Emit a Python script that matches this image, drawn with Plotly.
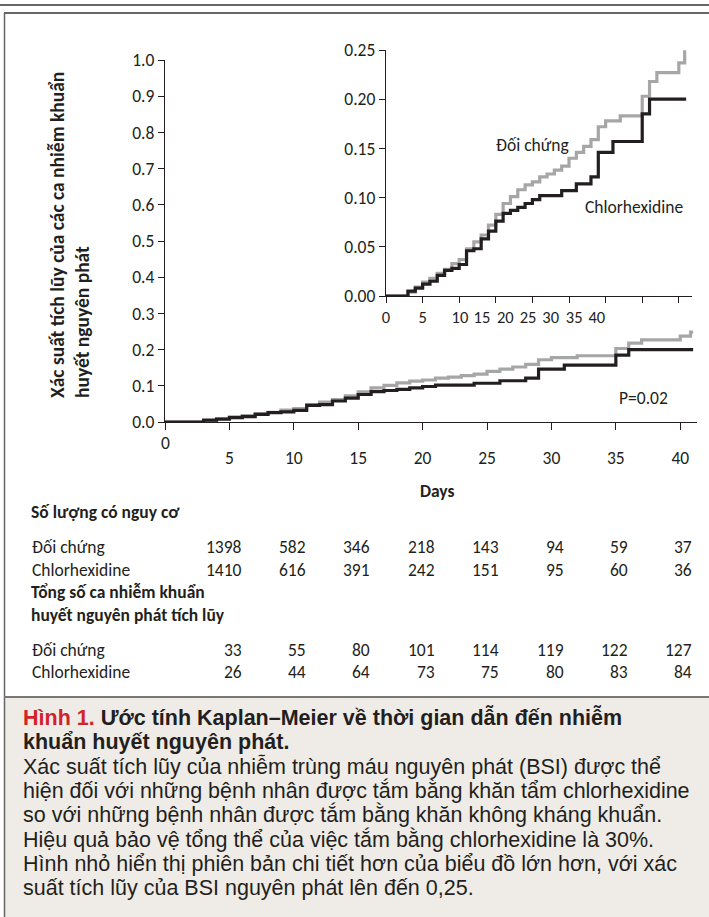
import plotly.graph_objects as go

# ---------------- data ----------------
control_days = [0, 3, 4, 5, 6, 7, 8, 9, 10, 11, 12, 13, 14, 15, 16, 17, 18, 19, 20, 21, 22, 23, 24,
                25, 26, 27, 28, 29, 30, 32, 35, 36, 37, 40, 40.8, 41]
control_prob = [0, 0.004, 0.009, 0.014, 0.018, 0.023, 0.027, 0.033, 0.037, 0.048, 0.055, 0.062, 0.072,
                0.083, 0.094, 0.101, 0.108, 0.113, 0.116, 0.121, 0.124, 0.128, 0.132, 0.140, 0.146,
                0.152, 0.159, 0.172, 0.178, 0.183, 0.203, 0.218, 0.227, 0.237, 0.248, 0.248]

chlor_days = [0, 3, 4, 5, 6, 7, 8, 9, 10, 11, 12, 13, 14, 15, 16, 17, 18, 19, 20, 21, 24, 26, 28, 29,
              31, 35, 36, 41]
chlor_prob = [0, 0.005, 0.008, 0.012, 0.015, 0.021, 0.026, 0.028, 0.032, 0.046, 0.048, 0.058, 0.066,
              0.076, 0.084, 0.087, 0.090, 0.094, 0.098, 0.102, 0.107, 0.114, 0.121, 0.146, 0.157,
              0.185, 0.200, 0.200]

main_xticks = [0, 5, 10, 15, 20, 25, 30, 35, 40]
main_yticks = [0.0, 0.1, 0.2, 0.3, 0.4, 0.5, 0.6, 0.7, 0.8, 0.9, 1.0]
inset_yticks = [0.00, 0.05, 0.10, 0.15, 0.20, 0.25]
inset_xticks = [0, 5, 10, 15, 20, 25, 30, 35, 40]
inset_xlabels = ["0", "5", "10", "15", "20", "25", "30", "35", "40"]

table_days = [5, 10, 15, 20, 25, 30, 35, 40]
risk_control = [1398, 582, 346, 218, 143, 94, 59, 37]
risk_chlor = [1410, 616, 391, 242, 151, 95, 60, 36]
cum_control = [33, 55, 80, 101, 114, 119, 122, 127]
cum_chlor = [26, 44, 64, 73, 75, 80, 83, 84]

label_control = "Đối chứng"
label_chlor = "Chlorhexidine"
y_title = "Xác suất tích lũy của các ca nhiễm khuẩn<br>huyết nguyên phát"
caption_title_red = "Hình 1."
caption_title = [" Ước tính Kaplan–Meier về thời gian dẫn đến nhiễm", "khuẩn huyết nguyên phát."]
caption_body = [
    "Xác suất tích lũy của nhiễm trùng máu nguyên phát (BSI) được thể",
    "hiện đối với những bệnh nhân được tắm bằng khăn tẩm chlorhexidine",
    "so với những bệnh nhân được tắm bằng khăn không kháng khuẩn.",
    "Hiệu quả bảo vệ tổng thể của việc tắm bằng chlorhexidine là 30%.",
    "Hình nhỏ hiển thị phiên bản chi tiết hơn của biểu đồ lớn hơn, với xác",
    "suất tích lũy của BSI nguyên phát lên đến 0,25.",
]

# ---------------- layout helpers ----------------
W, H = 709, 917
def px(x):
    return x / W
def py(y):
    return 1 - y / H

CF = "Carlito, Lato, 'Open Sans', sans-serif"
AF = "'Liberation Sans', Arial, sans-serif"
GRAY = "#a6a6a6"
BLACK = "#231f20"
FS = 17.5

# inset label positions (label spacing is compressed in the original)
inset_label_pos = [0, 5, 10.1, 13.1, 16.3, 19.4, 22.5, 25.7, 28.8]

fig = go.Figure()
for xa, ya in [("x", "y"), ("x2", "y2")]:
    fig.add_trace(go.Scatter(x=control_days, y=control_prob, mode="lines", line_shape="hv",
                             line=dict(color=GRAY, width=3.2), xaxis=xa, yaxis=ya, showlegend=False,
                             hoverinfo="skip"))
    fig.add_trace(go.Scatter(x=chlor_days, y=chlor_prob, mode="lines", line_shape="hv",
                             line=dict(color=BLACK, width=3.2), xaxis=xa, yaxis=ya, showlegend=False,
                             hoverinfo="skip"))

axis_common = dict(showgrid=False, zeroline=False, showline=True, linecolor=BLACK, linewidth=1.3,
                   ticks="outside", tickcolor=BLACK, tickwidth=1.3, automargin=False,
                   tickfont=dict(family=CF, size=FS, color=BLACK), fixedrange=True)

fig.update_layout(
    width=W, height=H, margin=dict(l=0, r=0, t=0, b=0, pad=0, autoexpand=False),
    paper_bgcolor="white", plot_bgcolor="rgba(0,0,0,0)",
    xaxis=dict(axis_common, domain=[px(165), px(697)], range=[0, 41.3], anchor="y",
               tickvals=main_xticks, ticktext=[""] + [str(t) for t in main_xticks[1:]],
               ticklen=7, ticklabelstandoff=13, tickangle=0),
    yaxis=dict(axis_common, domain=[py(422), py(60)], range=[0, 1], anchor="x",
               tickvals=main_yticks, ticktext=[f"{v:.1f}" for v in main_yticks], ticklen=6),
    xaxis2=dict(axis_common, domain=[px(386), px(692)], range=[0, 41.8], anchor="y2",
                tickvals=inset_xticks, showticklabels=False, ticklen=6),
    yaxis2=dict(axis_common, domain=[py(296), py(50)], range=[0, 0.25], anchor="x2",
                tickvals=inset_yticks, ticktext=[f"{v:.2f}" for v in inset_yticks], ticklen=6),
    xaxis3=dict(domain=[px(386), px(692)], range=[0, 41.8], anchor="y2", overlaying="x2",
                showline=False, showgrid=False, zeroline=False, ticks="", tickangle=0,
                automargin=False, tickvals=inset_label_pos, ticktext=inset_xlabels,
                ticklabelstandoff=9, tickfont=dict(family=CF, size=16.5, color=BLACK),
                fixedrange=True),
)
fig.add_trace(go.Scatter(x=[0], y=[0], mode="markers", marker=dict(opacity=0), xaxis="x3", yaxis="y2",
                         showlegend=False, hoverinfo="skip"))

ann = []
def text(x, y, s, size=FS, bold=False, family=CF, xanchor="left", xref="paper", color=BLACK, **kw):
    ann.append(dict(x=x, y=y, xref=xref, yref="paper", text=f"<b>{s}</b>" if bold else s,
                    showarrow=False, xanchor=xanchor, yanchor="middle",
                    font=dict(family=family, size=size, color=color), **kw))

# y-axis title
ann.append(dict(x=px(69), y=py(235), xref="paper", yref="paper", text=f"<b>{y_title}</b>",
                textangle=-90, showarrow=False, align="left", xanchor="center", yanchor="middle",
                font=dict(family=CF, size=19.5, color=BLACK)))
# main x "0" label and Days
ann.append(dict(x=0, y=py(443), xref="x", yref="paper", text="0", showarrow=False,
                xanchor="center", yanchor="middle", font=dict(family=CF, size=FS, color=BLACK)))
text(px(437), py(491), "Days", bold=True, xanchor="center")
text(px(643), py(398), "P=0.02", xanchor="center")
# inset labels
text(px(532), py(145), label_control, xanchor="center")
text(px(634), py(207), label_chlor, xanchor="center")

# table
text(px(29), py(512), "Số lượng có nguy cơ", bold=True)
rows = [(547, label_control, risk_control), (570, label_chlor, risk_chlor),
        (650, label_control, cum_control), (672, label_chlor, cum_chlor)]
for yy, lab, vals in rows:
    text(px(30), py(yy), lab)
    for d, v in zip(table_days, vals):
        text(d + 1.1, py(yy), str(v), xanchor="right", xref="x")
text(px(29), py(592), "Tổng số ca nhiễm khuẩn", bold=True)
text(px(29), py(615), "huyết nguyên phát tích lũy", bold=True)

# caption
CS = 21.5
text(px(21), py(717), f"<span style='color:#d2232a'>{caption_title_red}</span>{caption_title[0]}",
     size=CS, bold=True, family=AF)
text(px(21), py(742), caption_title[1], size=CS, bold=True, family=AF)
for i, line in enumerate(caption_body):
    text(px(21), py(766 + i * 24.4), line, size=CS, family=AF)

fig.update_layout(annotations=ann)

# frame shapes
shapes = [
    dict(type="rect", x0=px(5), x1=1.0, y0=0, y1=py(697), xref="paper", yref="paper",
         fillcolor="#efebe6", line=dict(width=0), layer="below"),
    dict(type="line", x0=0, x1=1, y0=py(5), y1=py(5), xref="paper", yref="paper",
         line=dict(color="#666666", width=2)),
    dict(type="line", x0=px(4), x1=1, y0=py(13), y1=py(13), xref="paper", yref="paper",
         line=dict(color="#666666", width=2)),
    dict(type="line", x0=px(4.5), x1=px(4.5), y0=py(13), y1=0, xref="paper", yref="paper",
         line=dict(color="#666666", width=1.5)),
    dict(type="line", x0=px(4), x1=1, y0=py(697), y1=py(697), xref="paper", yref="paper",
         line=dict(color="#777777", width=2)),
]
fig.update_layout(shapes=shapes)

fig.write_html("out.html",
               config={"displayModeBar": False, "responsive": False},
               post_script="document.documentElement.style.margin='0';"
                           "document.body.style.margin='0';document.body.style.padding='0';"
                           "document.documentElement.style.overflow='hidden';"
                           "document.body.style.overflow='hidden';")
